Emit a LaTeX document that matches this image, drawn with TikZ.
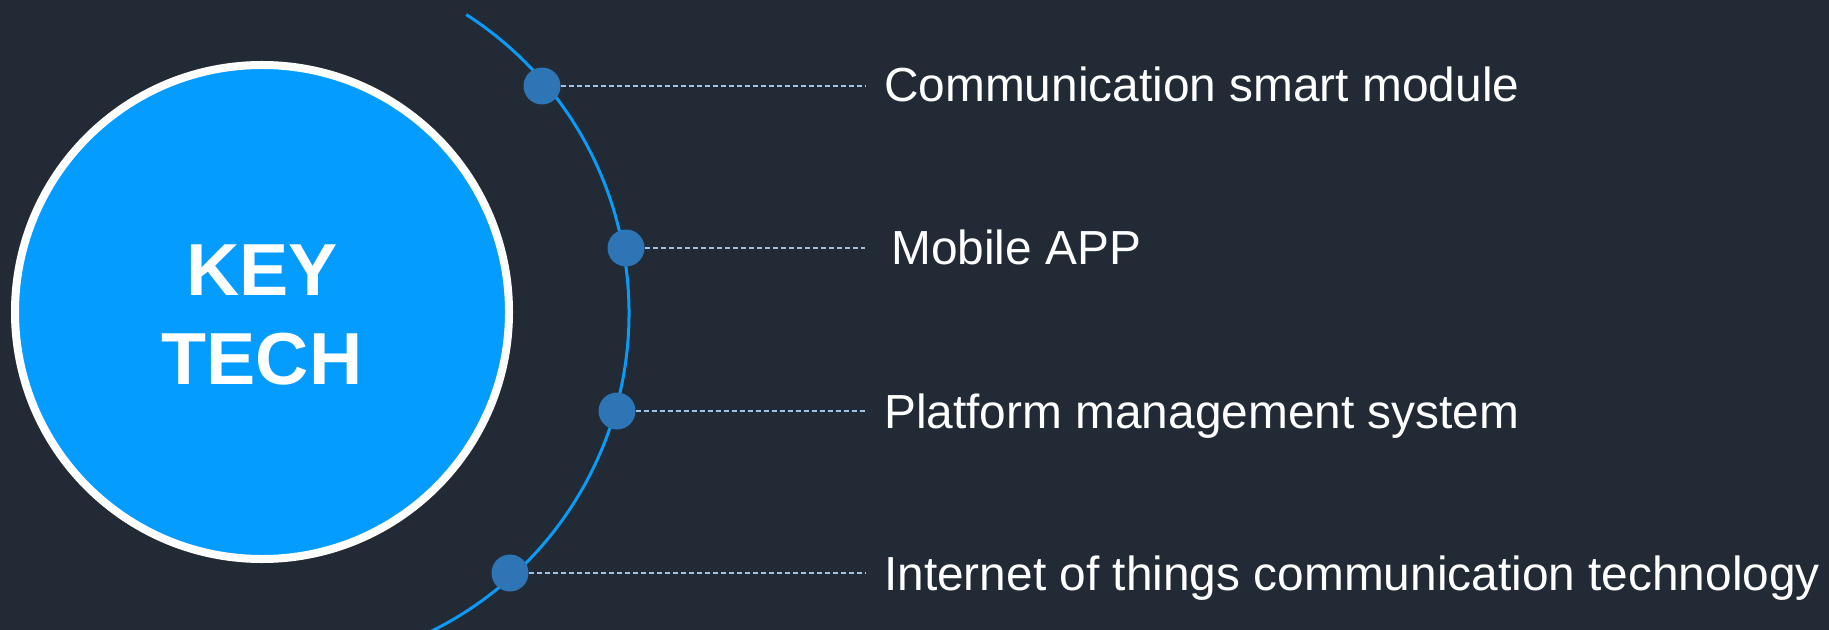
\documentclass[tikz,border=0pt]{standalone}
\usepackage{fontspec}
\setmainfont{Liberation Sans}
\definecolor{bgdark}{HTML}{222A35}
\definecolor{corefill}{HTML}{049CFE}
\definecolor{orbit}{HTML}{0A9BF7}
\definecolor{dotblue}{HTML}{2E75B6}
\definecolor{leaderblue}{HTML}{9DC3E6}
\begin{document}
\begin{tikzpicture}[x=1bp,y=-1bp,
  core/.style={circle, fill=corefill, draw=white, line width=8bp, minimum size=494bp, inner sep=0pt},
  coretext/.style={text=white, align=center, inner sep=0pt, font=\fontsize{74}{90}\selectfont\bfseries},
  orbitline/.style={draw=orbit, line width=3bp},
  hub/.style={circle, fill=dotblue, minimum size=37bp, inner sep=0pt},
  leader/.style={draw=leaderblue, line width=2.6bp, dash pattern=on 5.5bp off 2.5bp},
  label/.style={anchor=base west, text=white, inner sep=0pt, font=\fontsize{48}{58}\selectfont}]
  % canvas
  \useasboundingbox (0,0) rectangle (1829,630);
  \fill[bgdark] (0,0) rectangle (1829,630);
  \clip (0,0) rectangle (1829,630);

  % central disc and its caption
  \node[core] (core) at (262,312) {};
  \node[coretext] (coretitle) at (262,315) {KEY\\TECH};

  % orbit arc around the disc
  \coordinate (oc) at (274,313);
  \draw[orbitline] (oc) ++(-57.2:355) arc[start angle=-57.2, end angle=68, radius=355];

  % hubs on the orbit
  \node[hub] (h1) at (542,86) {};
  \node[hub] (h2) at (626,248) {};
  \node[hub] (h3) at (617,411) {};
  \node[hub] (h4) at (510,573) {};

  % leader ends
  \coordinate (e1) at (865,86);
  \coordinate (e2) at (865,248);
  \coordinate (e3) at (865,411);
  \coordinate (e4) at (865,573);

  \draw[leader] (h1.east) -- (e1);
  \draw[leader] (h2.east) -- (e2);
  \draw[leader] (h3.east) -- (e3);
  \draw[leader] (h4.east) -- (e4);

  % labels
  \node[label] (t1) at (884,102) {Communication smart module};
  \node[label] (t2) at (891,265) {Mobile APP};
  \node[label] (t3) at (884,428) {Platform management system};
  \node[label] (t4) at (884,590) {Internet of things communication technology};
\end{tikzpicture}
\end{document}
